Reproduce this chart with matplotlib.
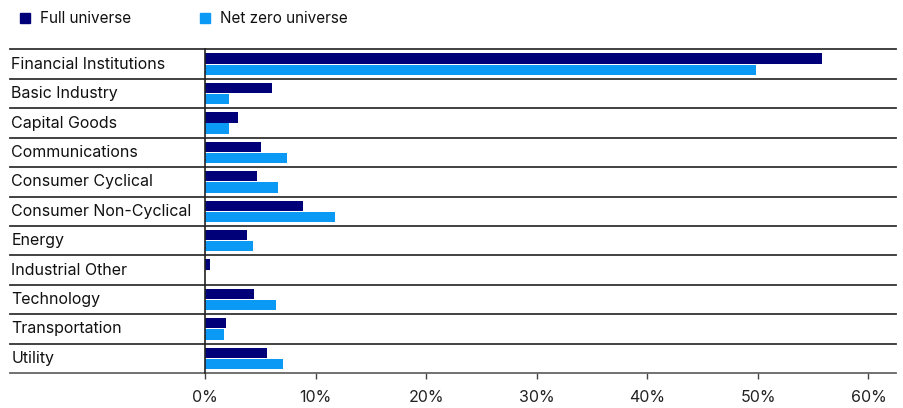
import matplotlib
matplotlib.use("Agg")
import matplotlib.pyplot as plt
from matplotlib.patches import Rectangle
from matplotlib.transforms import blended_transform_factory
import numpy as np

categories = ["Financial Institutions", "Basic Industry", "Capital Goods", "Communications",
              "Consumer Cyclical", "Consumer Non-Cyclical", "Energy", "Industrial Other",
              "Technology", "Transportation", "Utility"]
full_universe = [55.8, 6.0, 3.0, 5.0, 4.7, 8.8, 3.8, 0.4, 4.4, 1.9, 5.6]
net_zero_universe = [49.8, 2.1, 2.1, 7.4, 6.6, 11.7, 4.3, 0.0, 6.4, 1.7, 7.0]
series_names = ["Full universe", "Net zero universe"]
xticks = [0, 10, 20, 30, 40, 50, 60]
xtick_labels = ["0%", "10%", "20%", "30%", "40%", "50%", "60%"]

c_full = "#000078"
c_net = "#0A99F5"
font = ["Inter", "DejaVu Sans"]
plt.rcParams['font.family'] = font

W, H = 904, 408
fig = plt.figure(figsize=(W / 100, H / 100), dpi=100)
left_px, right_px, top_px, bot_px = 10, 896, 49.5, 373
ax = fig.add_axes([left_px / W, 1 - bot_px / H, (right_px - left_px) / W, (bot_px - top_px) / H])

px_per_unit = (868.5 - 205.3) / 60.0
xmin = -(205.3 - left_px) / px_per_unit
xmax = (right_px - 205.3) / px_per_unit
ax.set_xlim(xmin, xmax)
n = len(categories)
ax.set_ylim(n - 0.5, -0.5)

y = np.arange(n)
h = 0.35
ax.barh(y - 0.19, full_universe, height=h, color=c_full, zorder=3)
ax.barh(y + 0.19, net_zero_universe, height=h, color=c_net, zorder=3)

for i in range(n):
    ax.axhline(i - 0.5, color="#333333", lw=1.3, zorder=2, clip_on=False)
ax.axhline(n - 0.5, color="#666666", lw=1.3, zorder=2, clip_on=False)
ax.plot([0, 0], [-0.5, n - 0.5], color="#222222", lw=1.2, zorder=4, clip_on=False)

for s in ax.spines.values():
    s.set_visible(False)
ax.set_yticks([])
ax.set_xticks(xticks)
ax.set_xticklabels(xtick_labels, fontsize=11.5, color="#222222")
ax.tick_params(axis="x", length=4, width=1, color="#444444", pad=8)

trans = blended_transform_factory(ax.transAxes, ax.transData)
for i, c in enumerate(categories):
    ax.text(1.5 / (right_px - left_px), i, c, transform=trans, ha="left", va="center",
            fontsize=11.5, color="#111111")

# legend
sq = 10
for xpx, col, name in [(20, c_full, series_names[0]), (200, c_net, series_names[1])]:
    fig.patches.append(Rectangle((xpx / W, 1 - 23 / H), sq / W, sq / H, color=col,
                                 transform=fig.transFigure, figure=fig))
    fig.text((xpx + 20) / W, 1 - 18.5 / H, name, ha="left", va="center", fontsize=11,
             color="#111111")

fig.savefig("out.png", dpi=100)
